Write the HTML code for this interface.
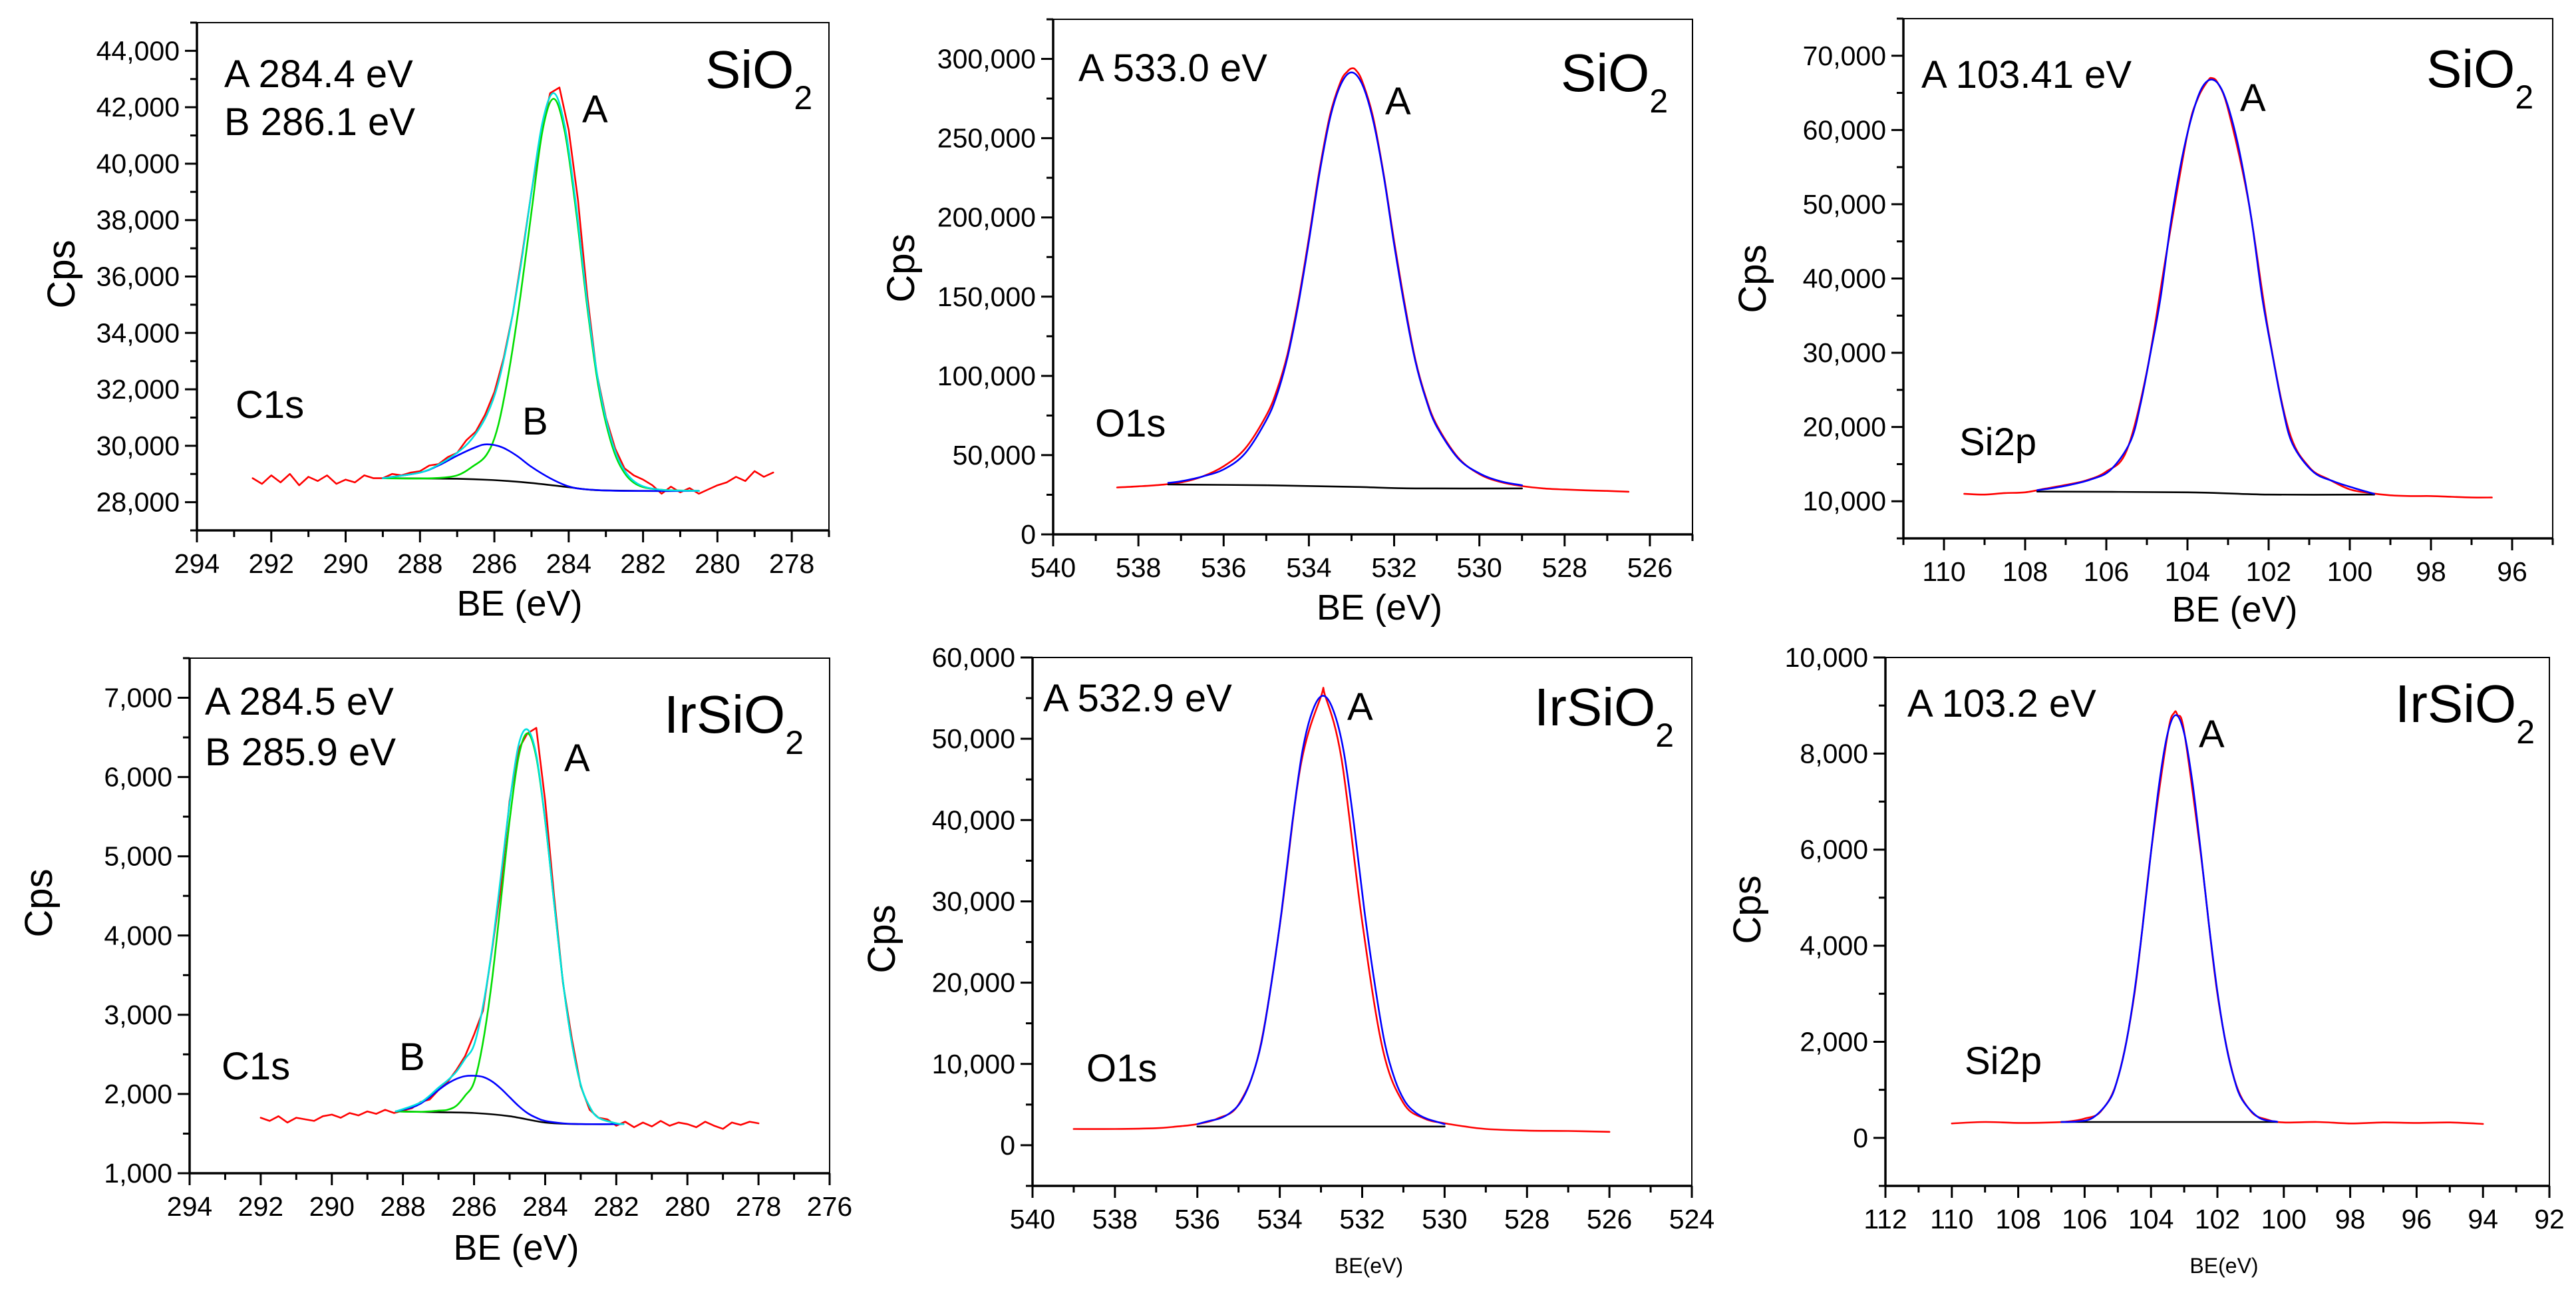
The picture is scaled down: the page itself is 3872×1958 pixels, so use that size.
<!DOCTYPE html>
<html><head><meta charset="utf-8"><title>XPS spectra</title>
<style>
html,body{margin:0;padding:0;background:#fff;}
svg{display:block;font-family:"Liberation Sans",Arial,sans-serif;}
</style></head>
<body>
<svg id="fig" width="3872" height="1958" viewBox="0 0 3872 1958" xmlns="http://www.w3.org/2000/svg">
<rect width="3872" height="1958" fill="#fff"/>
<g id="charts"></g>
<g id="labels" font-size="58" fill="#000">
  <!-- Panel 1 -->
  <text x="337" y="131">A 284.4 eV</text>
  <text x="337" y="203">B 286.1 eV</text>
  <text x="1060" y="132" font-size="80">SiO<tspan font-size="50" dy="32">2</tspan></text>
  <text x="875" y="184">A</text>
  <text x="785" y="653">B</text>
  <text x="354" y="628">C1s</text>
  <!-- Panel 2 -->
  <text x="1621" y="122">A 533.0 eV</text>
  <text x="2346" y="137" font-size="80">SiO<tspan font-size="50" dy="32">2</tspan></text>
  <text x="2082" y="172">A</text>
  <text x="1646" y="656">O1s</text>
  <!-- Panel 3 -->
  <text x="2888" y="132">A 103.41 eV</text>
  <text x="3647" y="131" font-size="80">SiO<tspan font-size="50" dy="32">2</tspan></text>
  <text x="3367" y="167">A</text>
  <text x="2945" y="684">Si2p</text>
  <!-- Panel 4 -->
  <text x="308" y="1074">A 284.5 eV</text>
  <text x="308" y="1150">B 285.9 eV</text>
  <text x="998" y="1101" font-size="80">IrSiO<tspan font-size="50" dy="32">2</tspan></text>
  <text x="848" y="1159">A</text>
  <text x="600" y="1608">B</text>
  <text x="333" y="1622">C1s</text>
  <!-- Panel 5 -->
  <text x="1568" y="1069">A 532.9 eV</text>
  <text x="2306" y="1090" font-size="80">IrSiO<tspan font-size="50" dy="32">2</tspan></text>
  <text x="2025" y="1082">A</text>
  <text x="1633" y="1625">O1s</text>
  <!-- Panel 6 -->
  <text x="2867" y="1077">A 103.2 eV</text>
  <text x="3600" y="1085" font-size="80">IrSiO<tspan font-size="50" dy="32">2</tspan></text>
  <text x="3305" y="1123">A</text>
  <text x="2953" y="1614">Si2p</text>
</g>
</svg>
<script>
// ===== Panel 1: C1s SiO2 =====
const p1RawStart = 292.5;
const p1RawStep = 0.25;
const p1RawY = [28850,28650,28950,28700,29000,28600,28900,28750,28950,28650,28800,28700,28950,28850,
 28850,29000,28950,29050,29100,29300,29350,29600,29750,30200,30500,31100,31900,33100,34700,36800,39000,41000,42500,42700,
 41200,38700,35300,32600,31000,29900,29200,28950,28800,28600,28300,28550,28350,28500,28300,28450,28600,28700,28900,28750,29100,28900,29050];
const p1FitBE = [289,288,287.5,287,286.6,286.2,285.9,285.6,285.3,285.0,284.7,284.4,284.1,283.8,283.5,283.2,282.9,282.6,282.2,281.6,280.5];
const p1EnvY = [28850,29050,29330,29750,30250,31100,32200,34000,36300,39000,41500,42500,41300,38500,35050,32250,30450,29350,28700,28450,28400];
const p1PeakAY = [28850,28840,28860,28950,29250,29700,30700,32700,35300,38300,41200,42300,41100,38300,34900,32100,30300,29250,28650,28450,28400];
const p1PeakBBE = [289,288,287.5,287,286.5,286.2,285.8,285.4,285,284.5,284,283.5,282.5,280.5];
const p1PeakBY = [28850,29050,29300,29650,29950,30050,29950,29650,29250,28850,28560,28450,28400,28400];
const p1BaseBE = [289,287,286,285,284,283.3,282,280.5];
const p1BaseY = [28850,28830,28780,28680,28530,28430,28400,28400];
const p1XTicks = [294,292,290,288,286,284,282,280,278];
const p1YTicks = [28000,30000,32000,34000,36000,38000,40000,42000,44000];

// ===== Panel 2: O1s SiO2 =====
const p2RawBE = [538.5,538,537.5,537,536.5,536,535.5,535,534.75,534.5,534.25,534,533.75,533.5,533.25,533.1,533,532.9,532.75,532.5,532.25,532,531.75,531.5,531.25,531,530.5,530,529.5,529,528.5,528,527.5,527,526.5];
const p2RawY = [29600,30300,31200,32800,36500,43000,54000,75000,91000,114000,147000,187000,230000,265000,286000,292000,294000,293000,286000,264000,228000,185000,145000,110000,86000,69000,48500,38000,33000,30500,29000,28300,27800,27400,26900];
const p2FitBE = [537.3,537,536.5,536,535.5,535,534.75,534.5,534.25,534,533.75,533.5,533.25,533,532.75,532.5,532.25,532,531.75,531.5,531.25,531,530.5,530,529.5,529];
const p2FitY = [32500,33500,36500,41000,51000,72000,88000,112000,145000,185000,228000,263000,284000,291500,284000,262000,227000,183000,143000,109000,85000,68000,48000,38500,33500,31000];
const p2BaseBE = [537.3,535,533,531.5,529];
const p2BaseY = [31500,31000,30000,29000,29000];
const p2XTicks = [540,538,536,534,532,530,528,526];
const p2YTicks = [0,50000,100000,150000,200000,250000,300000];

// ===== Panel 3: Si2p SiO2 =====
const p3RawBE = [109.5,109,108.5,108,107.5,107,106.5,106,105.5,105,104.5,104,103.75,103.5,103.4,103.25,103,102.5,102,101.5,101,100.5,100,99.5,99,98.5,98,97.5,97,96.5];
const p3RawY = [11000,10900,11100,11200,11700,12200,12800,14000,16800,27500,44000,59500,64200,66600,67000,66300,62800,50500,32700,19500,14600,12900,11600,11100,10800,10700,10700,10600,10500,10500];
const p3FitBE = [107.7,107.4,106.9,106.4,105.9,105.41,105.16,104.91,104.66,104.41,104.16,103.91,103.66,103.41,103.16,102.91,102.66,102.41,102.16,101.91,101.66,101.41,100.91,100.41,99.91,99.4];
const p3FitY = [11500,11700,12200,12900,14200,18000,23000,30000,37500,47500,55500,61500,65500,66800,65500,61500,55500,47500,37500,29800,22700,17700,14000,12700,11800,11000];
const p3BaseBE = [107.7,104,102,99.4];
const p3BaseY = [11300,11200,10900,10900];
const p3XTicks = [110,108,106,104,102,100,98,96];
const p3YTicks = [10000,20000,30000,40000,50000,60000,70000];

// ===== Panel 4: C1s IrSiO2 =====
const p4RawStart = 292;
const p4RawStep = 0.25;
const p4RawY = [1700,1660,1720,1640,1700,1680,1660,1720,1740,1700,1760,1730,1780,1750,1800,
 1760,1790,1820,1900,1930,2050,2150,2300,2480,2750,3050,3800,4600,5700,6350,6550,6620,5700,4500,3400,
 2700,2100,1800,1700,1680,1600,1650,1580,1640,1590,1660,1600,1640,1620,1580,1650,1600,1560,1640,1610,1650,1630];
const p4FitBE = [288.2,287.5,287,286.75,286.5,286.25,286,285.75,285.5,285.25,285,284.75,284.5,284.25,284,283.75,283.5,283.25,283,282.75,282.5,282,281.8];
const p4EnvY = [1780,1895,2080,2170,2280,2445,2620,3105,3820,4730,5670,6400,6600,6280,5460,4420,3420,2650,2120,1840,1700,1630,1620];
const p4PeakAY = [1780,1775,1790,1800,1850,1980,2150,2650,3420,4420,5450,6250,6550,6250,5450,4420,3420,2650,2115,1840,1700,1630,1620];
const p4PeakBBE = [288.2,287.75,287.5,287.25,287,286.75,286.5,286.25,286,285.75,285.5,285.25,285,284.75,284.5,284.25,284,283.5,283,281.8];
const p4PeakBY = [1780,1830,1880,1960,2050,2130,2190,2225,2230,2215,2160,2070,1960,1850,1760,1700,1660,1630,1620,1620];
const p4BaseBE = [288.2,287,286,285,284,283,281.8];
const p4BaseY = [1780,1770,1760,1720,1640,1620,1620];
const p4XTicks = [294,292,290,288,286,284,282,280,278,276];
const p4YTicks = [1000,2000,3000,4000,5000,6000,7000];

// ===== Panel 5: O1s IrSiO2 =====
const p5RawBE = [539,538,537,536.5,536,535.5,535,534.5,534,533.5,533,532.9,532.5,532,531.5,531,530.5,530,529.5,529,528,527,526];
const p5RawY = [2000,2000,2100,2300,2600,3300,5000,11500,27000,46500,55200,55300,47500,27500,11800,5200,3300,2700,2300,2000,1800,1750,1650];
const p5FitBE = [536,535.7,535.45,535.2,534.95,534.7,534.45,534.2,533.95,533.7,533.45,533.2,532.95,532.7,532.45,532.2,531.95,531.7,531.45,531.2,530.95,530.7,530.45,530.2,530];
const p5FitY = [2600,3000,3300,4000,5300,8000,12500,20000,29000,39500,48500,53500,55300,53500,48500,39500,29000,20000,12500,8000,5300,4000,3300,2900,2600];
const p5BaseBE = [536,530];
const p5BaseY = [2300,2300];
const p5XTicks = [540,538,536,534,532,530,528,526,524];
const p5YTicks = [0,10000,20000,30000,40000,50000,60000];

// ===== Panel 6: Si2p IrSiO2 =====
const p6RawBE = [110,109,108,107,106.5,106,105.5,105,104.5,104,103.5,103.3,103.2,103,102.5,102,101.5,101,100.5,100,99,98,97,96,95,94];
const p6RawY = [300,330,310,320,340,400,560,1240,3000,5950,8400,8850,8800,8450,5900,3000,1250,560,380,320,330,300,320,310,320,290];
const p6FitBE = [106.7,106.25,105.75,105.25,105,104.75,104.5,104.25,104,103.75,103.5,103.25,103,102.75,102.5,102.25,102,101.75,101.5,101.25,100.75,100.2];
const p6FitY = [330,340,420,790,1240,1970,3040,4410,5950,7390,8420,8800,8420,7390,5950,4410,3040,1970,1240,790,420,335];
const p6BaseBE = [106.7,100.2];
const p6BaseY = [330,330];
const p6XTicks = [112,110,108,106,104,102,100,98,96,94,92];
const p6YTicks = [0,2000,4000,6000,8000,10000];

const NS = 'http://www.w3.org/2000/svg';
const root = document.getElementById('charts');

function mk(tag, attrs, parent) {
  const e = document.createElementNS(NS, tag);
  for (const k in attrs) e.setAttribute(k, attrs[k]);
  parent.appendChild(e);
  return e;
}
function grid(start, step, n) { const a = []; for (let i = 0; i < n; i++) a.push(start - i * step); return a; }

function smoothPath(pts) {
  let d = 'M' + pts[0][0].toFixed(1) + ',' + pts[0][1].toFixed(1);
  for (let i = 0; i < pts.length - 1; i++) {
    const p0 = pts[i - 1] || pts[i], p1 = pts[i], p2 = pts[i + 1], p3 = pts[i + 2] || p2;
    const c1x = p1[0] + (p2[0] - p0[0]) / 6, c1y = p1[1] + (p2[1] - p0[1]) / 6;
    const c2x = p2[0] - (p3[0] - p1[0]) / 6, c2y = p2[1] - (p3[1] - p1[1]) / 6;
    d += 'C' + c1x.toFixed(1) + ',' + c1y.toFixed(1) + ' ' + c2x.toFixed(1) + ',' + c2y.toFixed(1) + ' ' + p2[0].toFixed(1) + ',' + p2[1].toFixed(1);
  }
  return d;
}
function linePath(pts) {
  return pts.map((p, i) => (i ? 'L' : 'M') + p[0].toFixed(1) + ',' + p[1].toFixed(1)).join('');
}

function panel(cfg) {
  const g = mk('g', {}, root);
  
  
  const b = cfg.box;
  const xs = v => b.l + (cfg.xd[0] - v) / (cfg.xd[0] - cfg.xd[1]) * (b.r - b.l);
  const ys = v => b.b - (v - cfg.yd[0]) / (cfg.yd[1] - cfg.yd[0]) * (b.b - b.t);

  // frame
  const fr = mk('rect', {x: b.l, y: b.t, width: b.r - b.l, height: b.b - b.t, fill: 'none', stroke: '#000', 'stroke-width': 2}, g);
  
  
  mk('line', {x1: b.l, y1: b.t, x2: b.l, y2: b.b + 1.5, stroke: '#000', 'stroke-width': 3.5}, g);
  mk('line', {x1: b.l - 1.5, y1: b.b, x2: b.r, y2: b.b, stroke: '#000', 'stroke-width': 3.5}, g);

  // x ticks
  const xt = mk('g', {}, g);
  
  
  const xlo = Math.min(cfg.xd[0], cfg.xd[1]), xhi = Math.max(cfg.xd[0], cfg.xd[1]);
  for (let v = Math.ceil(xlo); v <= xhi; v += 1) {
    const major = cfg.xTicks.indexOf(v) >= 0;
    mk('line', {x1: xs(v), y1: b.b, x2: xs(v), y2: b.b + (major ? 18 : 10), stroke: '#000', 'stroke-width': 3}, xt);
  }
  cfg.xTicks.forEach(v => {
    const t = mk('text', {x: xs(v), y: b.b + 64, 'text-anchor': 'middle', 'font-size': 41}, xt);
    
    
    t.textContent = String(v);
  });
  // y ticks
  const yt = mk('g', {}, g);
  
  
  const ystep = (cfg.yTicks[1] - cfg.yTicks[0]) / 2;
  for (let v = cfg.yTicks[0] - ystep * 4; v <= cfg.yd[1]; v += ystep) {
    if (v < cfg.yd[0]) continue;
    const major = cfg.yTicks.indexOf(v) >= 0;
    mk('line', {x1: b.l, y1: ys(v), x2: b.l - (major ? 18 : 10), y2: ys(v), stroke: '#000', 'stroke-width': 3}, yt);
  }
  cfg.yTicks.forEach(v => {
    const t = mk('text', {x: b.l - 26, y: ys(v) + 14, 'text-anchor': 'end', 'font-size': 41}, yt);
    
    
    t.textContent = v.toLocaleString('en-US');
  });
  // axis titles
  const xtl = mk('text', {x: (b.l + b.r) / 2 + 10, y: cfg.xTitleY, 'text-anchor': 'middle', 'font-size': cfg.xTitleSize}, g);
  
  
  xtl.textContent = cfg.xTitle;
  const ytl = mk('text', {x: 0, y: 0, 'text-anchor': 'middle', 'font-size': 58, transform: 'translate(' + (cfg.cps[0] + 20) + ',' + cfg.cps[1] + ') rotate(-90)'}, g);
  
  
  ytl.textContent = 'Cps';

  // series
  const sg = mk('g', {fill: 'none', 'stroke-linejoin': 'round', 'stroke-linecap': 'round'}, g);
  
  
  cfg.series.forEach(s => {
    const pts = s.x.map((xv, i) => [xs(xv), ys(s.y[i])]);
    const p = mk('path', {d: s.smooth ? smoothPath(pts) : linePath(pts), stroke: s.color, 'stroke-width': s.w || 2.6}, sg);
    
    
  });
}

panel({name: 'c1s-sio2-chart', box: {l: 296, r: 1246, t: 34, b: 797}, xd: [294, 277], yd: [27000, 45000],
  xTicks: p1XTicks, yTicks: p1YTicks, xTitle: 'BE (eV)', xTitleY: 925, xTitleSize: 54, cps: [92, 412],
  series: [
    {name: 'raw-data-line', x: grid(p1RawStart, p1RawStep, p1RawY.length), y: p1RawY, color: '#ff0000'},
    {name: 'background-line', x: p1BaseBE, y: p1BaseY, color: '#000000', smooth: true},
    {name: 'peak-a-fit', x: p1FitBE, y: p1PeakAY, color: '#00dd00', smooth: true},
    {name: 'peak-b-fit', x: p1PeakBBE, y: p1PeakBY, color: '#0000ff', smooth: true},
    {name: 'envelope-fit', x: p1FitBE, y: p1EnvY, color: '#00e0e0', smooth: true}
  ]});

panel({name: 'o1s-sio2-chart', box: {l: 1583, r: 2544, t: 29, b: 803}, xd: [540, 525], yd: [0, 325000],
  xTicks: p2XTicks, yTicks: p2YTicks, xTitle: 'BE (eV)', xTitleY: 931, xTitleSize: 54, cps: [1354, 403],
  series: [
    {name: 'raw-data-line', x: p2RawBE, y: p2RawY, color: '#ff0000', smooth: true},
    {name: 'background-line', x: p2BaseBE, y: p2BaseY, color: '#000000', smooth: true},
    {name: 'envelope-fit', x: p2FitBE, y: p2FitY, color: '#0000ff', smooth: true}
  ]});

panel({name: 'si2p-sio2-chart', box: {l: 2861, r: 3837, t: 28, b: 809}, xd: [111, 95], yd: [5000, 75000],
  xTicks: p3XTicks, yTicks: p3YTicks, xTitle: 'BE (eV)', xTitleY: 934, xTitleSize: 54, cps: [2634, 419],
  series: [
    {name: 'raw-data-line', x: p3RawBE, y: p3RawY, color: '#ff0000', smooth: true},
    {name: 'background-line', x: p3BaseBE, y: p3BaseY, color: '#000000', smooth: true},
    {name: 'envelope-fit', x: p3FitBE, y: p3FitY, color: '#0000ff', smooth: true}
  ]});

panel({name: 'c1s-irsio2-chart', box: {l: 285, r: 1247, t: 989, b: 1763}, xd: [294, 276], yd: [1000, 7500],
  xTicks: p4XTicks, yTicks: p4YTicks, xTitle: 'BE (eV)', xTitleY: 1893, xTitleSize: 54, cps: [58, 1357],
  series: [
    {name: 'raw-data-line', x: grid(p4RawStart, p4RawStep, p4RawY.length), y: p4RawY, color: '#ff0000'},
    {name: 'background-line', x: p4BaseBE, y: p4BaseY, color: '#000000', smooth: true},
    {name: 'peak-a-fit', x: p4FitBE, y: p4PeakAY, color: '#00dd00', smooth: true},
    {name: 'peak-b-fit', x: p4PeakBBE, y: p4PeakBY, color: '#0000ff', smooth: true},
    {name: 'envelope-fit', x: p4FitBE, y: p4EnvY, color: '#00e0e0', smooth: true}
  ]});

panel({name: 'o1s-irsio2-chart', box: {l: 1552, r: 2543, t: 988, b: 1782}, xd: [540, 524], yd: [-5000, 60000],
  xTicks: p5XTicks, yTicks: p5YTicks, xTitle: 'BE(eV)', xTitleY: 1913, xTitleSize: 32, cps: [1325, 1411],
  series: [
    {name: 'raw-data-line', x: p5RawBE, y: p5RawY, color: '#ff0000', smooth: true},
    {name: 'background-line', x: p5BaseBE, y: p5BaseY, color: '#000000'},
    {name: 'envelope-fit', x: p5FitBE, y: p5FitY, color: '#0000ff', smooth: true}
  ]});

panel({name: 'si2p-irsio2-chart', box: {l: 2834, r: 3832, t: 988, b: 1782}, xd: [112, 92], yd: [-1000, 10000],
  xTicks: p6XTicks, yTicks: p6YTicks, xTitle: 'BE(eV)', xTitleY: 1913, xTitleSize: 32, cps: [2626, 1367],
  series: [
    {name: 'raw-data-line', x: p6RawBE, y: p6RawY, color: '#ff0000', smooth: true},
    {name: 'background-line', x: p6BaseBE, y: p6BaseY, color: '#000000'},
    {name: 'envelope-fit', x: p6FitBE, y: p6FitY, color: '#0000ff', smooth: true}
  ]});
</script>
</body></html>
